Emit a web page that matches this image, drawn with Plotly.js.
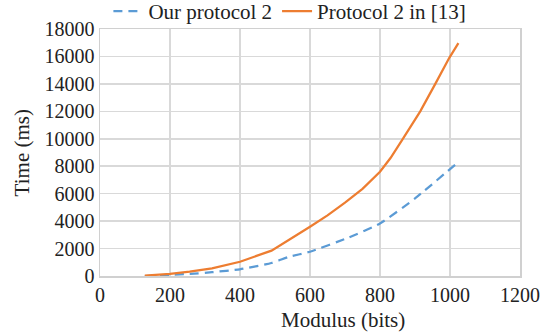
<!DOCTYPE html>
<html>
<head>
<meta charset="utf-8">
<script src="https://cdn.plot.ly/plotly-3.0.1.min.js"></script>
<style>html,body{margin:0;padding:0;background:#fff;}#chart{width:556px;height:334px;}</style>
</head>
<body>
<div id="chart"></div>
<script>
var oursX = [128, 200, 256, 320, 400, 490, 540, 600, 711, 800, 900, 1024];
var oursY = [0, 80, 150, 280, 490, 950, 1400, 1770, 2810, 3830, 5650, 8310];
var refX = [128, 200, 256, 320, 400, 490, 600, 650, 700, 750, 800, 830, 863, 890, 915, 958, 998, 1024];
var refY = [30, 150, 320, 560, 1040, 1850, 3590, 4420, 5350, 6350, 7600, 8600, 9900, 11000, 12000, 14000, 15900, 16970];
var seriesNames = ['Our protocol 2', 'Protocol 2 in [13]'];
var xTitle = 'Modulus (bits)';
var yTitle = 'Time (ms)';

var font = '"Liberation Serif", "Times New Roman", serif';
var data = [
  {x: oursX, y: oursY, name: seriesNames[0], mode: 'lines', type: 'scatter',
   line: {color: '#5B9BD5', width: 2.25, dash: '9px,6px', shape: 'spline', smoothing: 0.5}},
  {x: refX, y: refY, name: seriesNames[1], mode: 'lines', type: 'scatter',
   line: {color: '#ED7D31', width: 2.25, shape: 'linear'}}
];
var layout = {
  width: 556, height: 334,
  margin: {l: 100, r: 36, t: 29, b: 58, autoexpand: false},
  paper_bgcolor: '#fff', plot_bgcolor: '#fff',
  font: {family: font, size: 20, color: '#222'},
  showlegend: true,
  legend: {orientation: 'h', x: 0.02, xanchor: 'left', y: 1.154, yanchor: 'top',
           font: {family: font, size: 21, color: '#222'}, itemwidth: 30, tracegroupgap: 0,
           bgcolor: 'rgba(0,0,0,0)'},
  xaxis: {range: [0, 1200], dtick: 200, tick0: 0, tickformat: 'd', showgrid: true, gridcolor: '#d9d9d9', gridwidth: 1.5,
          zeroline: false, showline: true, linecolor: '#d0d0d0', linewidth: 1.5, mirror: true,
          ticks: '', tickfont: {family: font, size: 20, color: '#222'}},
  yaxis: {range: [0, 18000], dtick: 2000, tick0: 0, tickformat: 'd', showgrid: true, gridcolor: '#d9d9d9', gridwidth: 1.5,
          zeroline: false, showline: true, linecolor: '#d0d0d0', linewidth: 1.5, mirror: true,
          ticks: '', tickfont: {family: font, size: 20, color: '#222'}},
  annotations: [
    {text: xTitle, xref: 'paper', yref: 'paper', x: 0.579, y: -0.178, xanchor: 'center', yanchor: 'middle',
     showarrow: false, font: {family: font, size: 21, color: '#222'}},
    {text: yTitle, xref: 'paper', yref: 'paper', x: -0.186, y: 0.5, xanchor: 'center', yanchor: 'middle',
     textangle: -90, showarrow: false, font: {family: font, size: 21, color: '#222'}}
  ]
};
Plotly.newPlot('chart', data, layout, {displayModeBar: false, staticPlot: true});
</script>
</body>
</html>
